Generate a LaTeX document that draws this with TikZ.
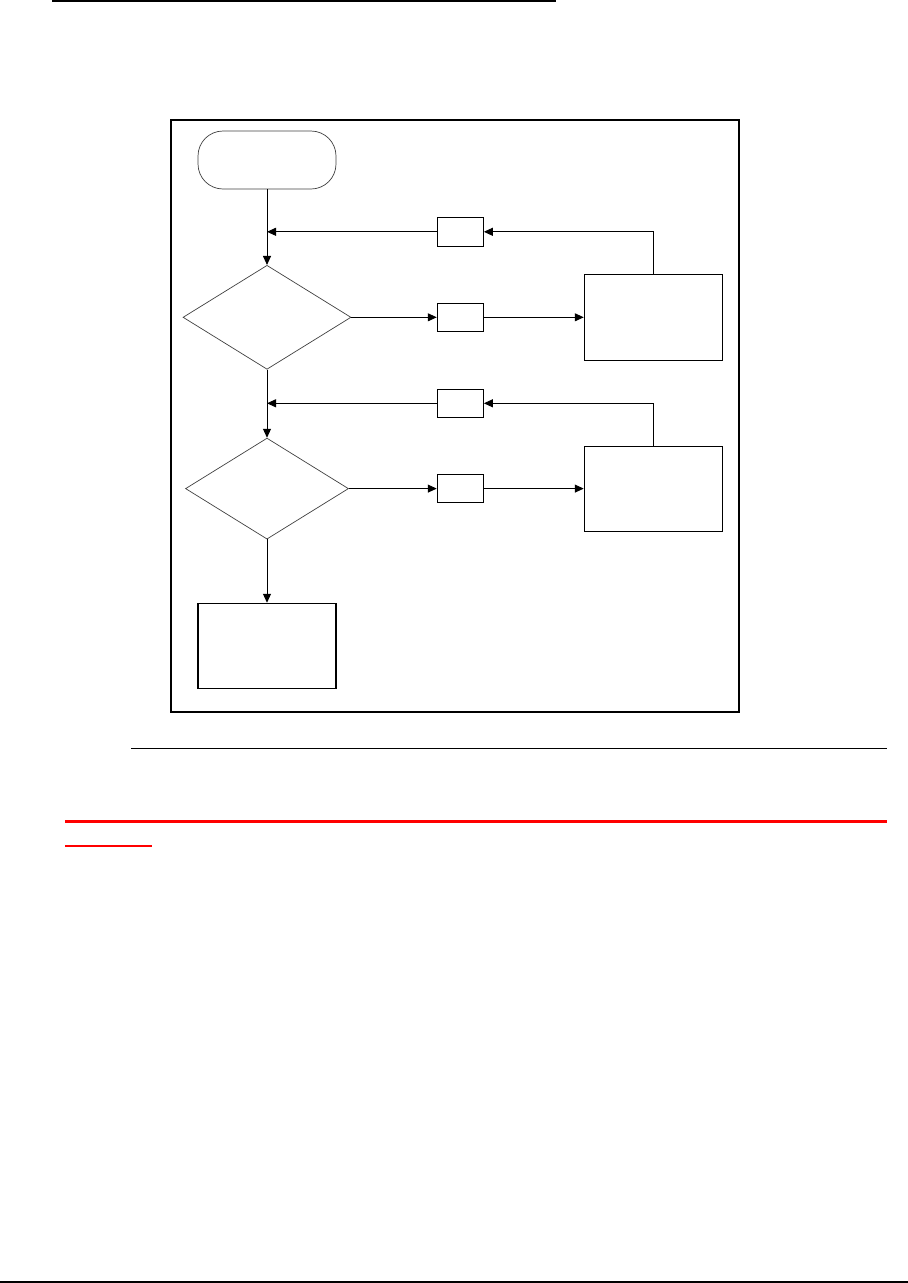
\documentclass[tikz,border=0pt]{standalone}
\usetikzlibrary{arrows.meta,shapes.geometric}
\begin{document}
\begin{tikzpicture}[x=1pt,y=-1pt,
  conn/.style={line width=1pt,-{Triangle[length=9pt,width=8pt]}},
  box/.style={draw,line width=1.1pt,inner sep=0pt,rectangle},
  term/.style={draw=black!75,line width=0.7pt,inner sep=0pt,rectangle,rounded corners=25pt,minimum width=138pt,minimum height=58pt},
  decision/.style={draw=black!75,line width=0.7pt,diamond,inner sep=0pt},
  small/.style={box,minimum width=46pt,minimum height=28.5pt},
  big/.style={box,minimum width=138pt,minimum height=86pt}]
\useasboundingbox (0,0) rectangle (908,1283);
% page rules
\draw[line width=2.5pt] (52,1.2) -- (556,1.2);
\draw[line width=1pt] (131,748.3) -- (887,748.3);
\draw[line width=2.5pt,red] (65,821.7) -- (887,821.7);
\draw[line width=2.5pt,red] (65,846) -- (152,846);
\draw[line width=2pt] (0,1282) -- (908,1282);
% frame
\node[draw,line width=2pt,inner sep=0pt,minimum width=568pt,minimum height=592pt] (frame) at (455,416) {};
% nodes
\node[term] (start) at (267,160) {};
\node[decision,minimum width=168pt,minimum height=104pt] (d1) at (267,317.3) {};
\node[decision,minimum width=163pt,minimum height=101pt] (d2) at (267,488.6) {};
\node[small] (s1) at (460.3,231.8) {};
\node[small] (s2) at (460.3,317.3) {};
\node[small] (s3) at (460.3,403.3) {};
\node[small] (s4) at (460.3,488.6) {};
\node[big] (b1) at (653.3,317.3) {};
\node[big,minimum height=85pt] (b2) at (653.3,488.6) {};
\node[big,minimum height=85pt] (end) at (267,645.8) {};
\coordinate (j1) at (267,231.8);
\coordinate (j2) at (267,403.3);
% connectors
\draw[conn] (start.south) -- (d1.north);
\draw[conn] (s1.west) -- (j1);
\draw[conn] (b1.north) |- (s1.east);
\draw[conn] (d1.east) -- (s2.west);
\draw[conn] (s2.east) -- (b1.west);
\draw[conn] (d1.south) -- (d2.north);
\draw[conn] (s3.west) -- (j2);
\draw[conn] (b2.north) |- (s3.east);
\draw[conn] (d2.east) -- (s4.west);
\draw[conn] (s4.east) -- (b2.west);
\draw[conn] (d2.south) -- (end.north);
\end{tikzpicture}
\end{document}
